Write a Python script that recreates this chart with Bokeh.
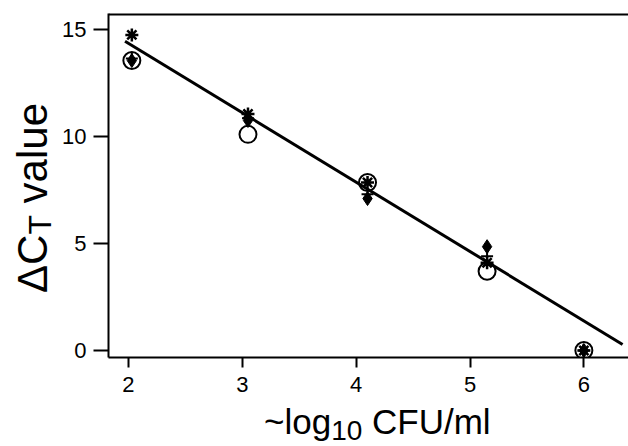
from bokeh.plotting import figure
from bokeh.models import Range1d, FixedTicker, Span, Div
from bokeh.layouts import row, column
from bokeh.embed import file_html
from bokeh.resources import INLINE

# ---- data ----
x_groups = [2.03, 3.05, 4.10, 5.15, 6.00]
open_circle = [13.55, 10.10, 7.85, 3.70, 0.00]
asterisk = [14.75, 11.05, 7.85, 4.10, 0.00]
diamond = [13.55, 10.75, 7.10, 4.85, 0.00]
plus = [13.65, 10.85, 7.30, 4.40, 0.00]
fit_x = [1.97, 6.34]
fit_y = [14.45, 0.28]
x_ticks = [2, 3, 4, 5, 6]
y_ticks = [0, 5, 10, 15]
x_label = ("~log", "10", " CFU/ml")
y_label = ("ΔC", "T", " value")

FONT = "Liberation Sans"
YDIV_W = 59
FIG_W, FIG_H = 628 - YDIV_W, 402
XDIV_H = 44

p = figure(width=FIG_W, height=FIG_H, output_backend="svg", toolbar_location=None,
           x_range=Range1d(1.825, 6.392), y_range=Range1d(-0.33, 15.75),
           min_border_left=106 - YDIV_W, min_border_right=0, min_border_top=13,
           min_border_bottom=45)
p.outline_line_color = None
p.grid.visible = False
p.background_fill_color = "white"
p.border_fill_color = "white"

for ax in (p.xaxis[0], p.yaxis[0]):
    ax.axis_line_width = 2
    ax.axis_line_color = "black"
    ax.major_tick_line_width = 2
    ax.major_tick_line_color = "black"
    ax.major_tick_in = 0
    ax.minor_tick_line_color = None
    ax.major_label_text_font = FONT
    ax.major_label_text_font_size = "22px"
    ax.major_label_text_color = "black"

p.xaxis.ticker = FixedTicker(ticks=x_ticks)
p.xaxis.major_tick_out = 10
p.xaxis.major_label_standoff = 9
p.yaxis.ticker = FixedTicker(ticks=y_ticks)
p.yaxis.major_tick_out = 15
p.yaxis.major_label_standoff = 7

p.add_layout(Span(location=15.72, dimension="width", line_color="black", line_width=2.5))

# fit line
p.line(fit_x, fit_y, line_color="black", line_width=3)

# markers
p.scatter(x_groups, open_circle, marker="circle", size=17, fill_color=None,
          line_color="black", line_width=2)
p.scatter(x_groups, diamond, marker="diamond", size=14, fill_color="black",
          line_color="black", line_width=1)
p.scatter(x_groups, plus, marker="cross", size=12, line_color="black", line_width=2)
p.scatter(x_groups, asterisk, marker="asterisk", size=13, line_color="black", line_width=2.5)

# y axis label (rotated, with subscript)
y_html = (
    f'<div style="position:relative;width:{YDIV_W}px;height:{FIG_H + XDIV_H}px;overflow:hidden;'
    f'font-family:\'{FONT}\',Arial,sans-serif;color:black;">'
    '<div style="position:absolute;left:12px;top:293px;transform-origin:0 0;'
    'transform:rotate(-90deg);font-size:42px;line-height:42px;white-space:nowrap;">'
    f'{y_label[0]}<span style="font-size:32px;position:relative;top:4px;">{y_label[1]}</span>'
    f'{y_label[2]}</div></div>'
)
ydiv = Div(text=y_html, width=YDIV_W, height=FIG_H + XDIV_H, margin=0)

# x axis label (with subscript)
x_html = (
    f'<div style="position:relative;width:{FIG_W}px;height:{XDIV_H}px;overflow:hidden;'
    f'font-family:\'{FONT}\',Arial,sans-serif;color:black;">'
    '<div style="position:absolute;left:205px;top:2px;font-size:35px;line-height:35px;'
    'white-space:nowrap;">'
    f'{x_label[0]}<span style="font-size:28px;position:relative;top:6px;">{x_label[1]}</span>'
    f'{x_label[2]}</div></div>'
)
xdiv = Div(text=x_html, width=FIG_W, height=XDIV_H, margin=0)

layout = row(ydiv, column(p, xdiv, spacing=0), spacing=0)

open("out.html", "w").write(file_html(layout, INLINE))
